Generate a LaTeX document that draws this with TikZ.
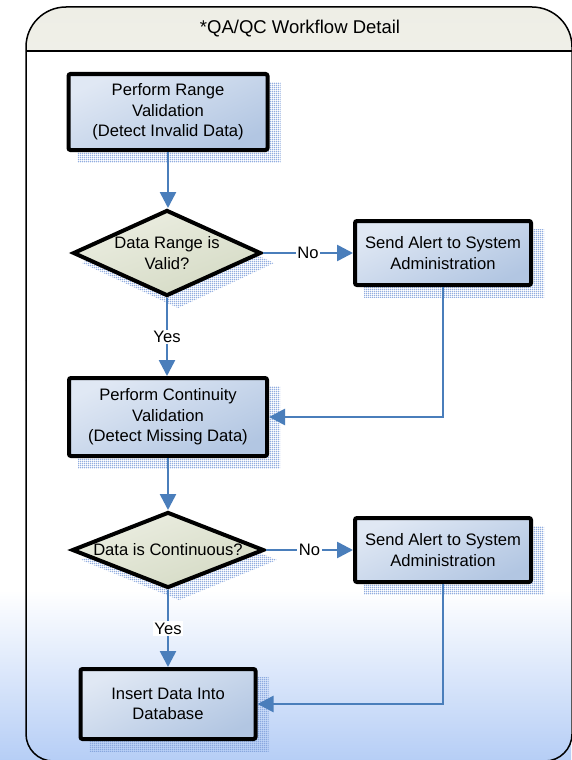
\documentclass[tikz,border=0pt]{standalone}
\usepackage{fontspec}
\setmainfont{Liberation Sans}
\usetikzlibrary{shapes.geometric,arrows.meta,patterns.meta}

\definecolor{flowblue}{RGB}{74,126,187}
\definecolor{boxlight}{RGB}{224,232,244}
\definecolor{boxdark}{RGB}{178,198,226}
\definecolor{declight}{RGB}{236,238,226}
\definecolor{decdark}{RGB}{212,218,196}
\definecolor{meshblue}{RGB}{130,162,220}
\definecolor{bgblue}{RGB}{182,206,246}
\definecolor{headlight}{RGB}{238,238,230}
\definecolor{headpale}{RGB}{250,250,246}

\newcommand\flowfont{\fontsize{16.6}{20.5}\selectfont}
\newcommand\titlefont{\fontsize{18.5}{22}\selectfont}

% fine mesh used for the offset shadows
\tikzdeclarepattern{
  name=finemesh,
  type=uncolored,
  bounding box={(0pt,0pt) and (2pt,2pt)},
  tile size={(2pt,2pt)},
  code={
    \fill (0pt,0pt) rectangle (2pt,0.9pt);
    \fill (0pt,0pt) rectangle (0.9pt,2pt);
  }
}

\pgfdeclarelayer{back}
\pgfdeclarelayer{shade}
\pgfsetlayers{back,shade,main}

\tikzset{
  procbox/.style={draw=black, line width=4pt, rounded corners=2pt,
    shading=axis, top color=boxlight, bottom color=boxdark, shading angle=25,
    align=center, inner sep=0pt, font=\flowfont},
  decision/.style={diamond, draw=black, line width=4pt,
    shading=axis, top color=declight, bottom color=decdark, shading angle=20,
    inner sep=0pt},
  dtext/.style={align=center, font=\flowfont, inner sep=0pt},
  flow/.style={draw=flowblue, line width=2.6pt,
    -{Triangle[length=16pt,width=16pt]}},
  tag/.style={fill=white, inner sep=1.5pt, font=\flowfont},
  shadowmesh/.style={pattern={finemesh}, pattern color=meshblue},
  frameline/.style={draw=black, line width=1.5pt},
}

\begin{document}
\begin{tikzpicture}[x=1pt, y=-1pt]
\useasboundingbox (0,0) rectangle (571,760);

% page background
\begin{pgfonlayer}{back}
  \fill[white] (0,0) rectangle (571,760);
  \shade[top color=white, bottom color=bgblue] (0,590) rectangle (571,760);
  % header band of the container
  \begin{scope}
    \clip (0,0) rectangle (571,51);
    \fill[top color=headlight, bottom color=headpale]
      (26,380) [rounded corners=40pt] |- (300,7) -| (572,380) -- cycle;
  \end{scope}
\end{pgfonlayer}

% container outline and header
\draw[frameline] (26,380) [rounded corners=40pt] |- (300,7) -| (572,380);
\draw[frameline] (572,380) [rounded corners=27pt] |- (300,761) -| (26,380);
\draw[frameline] (26,51) -- (572,51);
\node[font=\titlefont] (title) at (300,29) {*QA/QC Workflow Detail};

% process steps and decisions
\node[procbox, minimum width=199pt, minimum height=76pt] (b1) at (168,112)
  {Perform Range\\Validation\\(Detect Invalid Data)};
\node[decision, minimum width=188pt, minimum height=86pt,
  label={[dtext]center:Data Range is\\Valid?}] (d1) at (167,253) {};
\node[procbox, minimum width=176pt, minimum height=64pt] (b2) at (443,253)
  {Send Alert to System\\Administration};
\node[procbox, minimum width=198pt, minimum height=78pt] (b3) at (168,417)
  {Perform Continuity\\Validation\\(Detect Missing Data)};
\node[decision, minimum width=192pt, minimum height=76pt,
  label={[dtext]center:Data is Continuous?}] (d2) at (168,550) {};
\node[procbox, minimum width=176pt, minimum height=64pt] (b4) at (443,550)
  {Send Alert to System\\Administration};
\node[procbox, minimum width=175pt, minimum height=70pt] (b5) at (168,704)
  {Insert Data Into\\Database};

% offset shadows
\begin{pgfonlayer}{shade}
  \foreach \n in {b1,b2,b3,b4,b5}{
    \fill[shadowmesh] ([shift={(11,10)}]\n.north west) rectangle
                      ([shift={(11,10)}]\n.south east);
  }
  \foreach \n in {d1,d2}{
    \fill[shadowmesh] ([shift={(11,10)}]\n.north) -- ([shift={(11,10)}]\n.east)
      -- ([shift={(11,10)}]\n.south) -- ([shift={(11,10)}]\n.west) -- cycle;
  }
\end{pgfonlayer}

% connectors
\draw[flow] (b1.south) -- (b1.south |- d1.north);
\draw[flow] (d1.east) -- node[tag] (no1) {No} (b2.west);
\draw[flow] (d1.south) -- node[tag] (yes1) {Yes} (d1.south |- b3.north);
\draw[flow] (b2.south) |- (b3.east);
\draw[flow] (b3.south) -- (b3.south |- d2.north);
\draw[flow] (d2.east) -- node[tag] (no2) {No} (b4.west);
\draw[flow] (d2.south) -- node[tag] (yes2) {Yes} (d2.south |- b5.north);
\draw[flow] (b4.south) |- (b5.east);
\end{tikzpicture}
\end{document}
